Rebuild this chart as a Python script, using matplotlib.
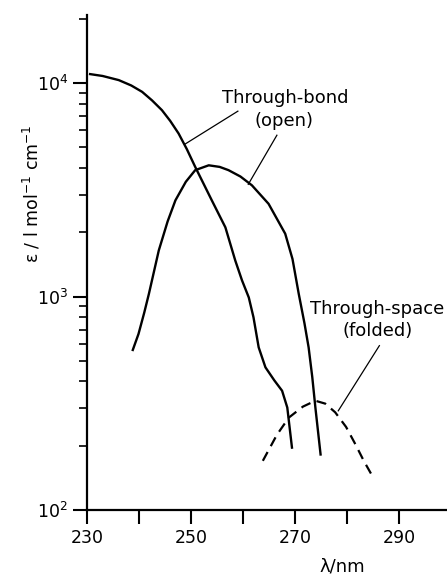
import numpy as np
import matplotlib
matplotlib.use('Agg')
from matplotlib import pyplot as plt
from matplotlib.ticker import LogLocator, FixedLocator, NullFormatter

# through-bond (open) -- falling curve from 230 nm
bond_nm = [230.6, 233.0, 236.1, 238.5, 240.6, 242.5, 244.4, 246.0, 247.6, 249.2, 250.8,
           252.4, 254.0, 256.6, 258.5, 259.8, 261.1, 262.0, 263.0, 264.3, 266.0, 267.5, 268.5, 269.4]
bond_eps = [11020, 10800, 10330, 9750, 9100, 8300, 7470, 6650, 5810, 4900, 4050,
            3380, 2820, 2110, 1475, 1190, 990, 800, 578, 466, 405, 362, 302, 196]

# second solid curve, peak near 253 nm
open_nm = [238.8, 239.9, 241.0, 241.9, 243.8, 245.5, 247.0, 249.0, 250.8, 253.4, 255.5, 257.2,
           259.5, 261.7, 264.9, 268.1, 269.5, 270.7, 271.8, 272.6, 273.3, 273.9, 274.9]
open_eps = [562, 668, 840, 1030, 1645, 2250, 2825, 3450, 3910, 4120, 4050, 3910,
            3650, 3320, 2720, 1970, 1500, 1030, 750, 578, 420, 302, 182]

# through-space (folded), dashed
space_nm = [263.8, 266.5, 268.8, 271.5, 273.9, 275.8, 277.7, 279.8, 281.6, 283.2, 284.8]
space_eps = [170, 225, 271, 305, 325, 315, 287, 245, 203, 170, 145]

fig = plt.figure(figsize=(4.47, 5.77), dpi=100)
ax = fig.add_axes([87/447, 1 - 510/577, 1 - 87/447, (510 - 15)/577])

ax.plot(bond_nm, bond_eps, color='black', lw=1.7)
ax.plot(open_nm, open_eps, color='black', lw=1.7)
ax.plot(space_nm, space_eps, color='black', lw=1.6, ls=(0, (4.5, 3)))

ax.set_yscale('log')
ax.set_xlim(230, 299.2)
ax.set_ylim(100, 20850)

ax.spines['top'].set_visible(False)
ax.spines['right'].set_visible(False)
ax.spines['left'].set_linewidth(1.6)
ax.spines['bottom'].set_linewidth(1.6)

ax.xaxis.set_major_locator(FixedLocator([230, 250, 270, 290]))
ax.xaxis.set_minor_locator(FixedLocator([240, 260, 280]))
ax.yaxis.set_major_locator(LogLocator(base=10, numticks=5))
ax.yaxis.set_minor_locator(LogLocator(base=10, subs=np.arange(2, 10), numticks=10))
ax.yaxis.set_minor_formatter(NullFormatter())
ax.tick_params(axis='both', which='major', direction='out', length=10, width=1.5, labelsize=12.5)
ax.tick_params(axis='x', which='minor', direction='out', length=10, width=1.5)
ax.tick_params(axis='y', which='minor', direction='out', length=6, width=1.2)

ax.set_ylabel('ε / l mol$^{-1}$ cm$^{-1}$', fontsize=12.5)
ax.yaxis.set_label_coords(-0.125, 0.64)
ax.set_xlabel('λ/nm', fontsize=13)
ax.xaxis.set_label_coords(0.708, -0.095)

# annotations
ax.text(268.1, 10**(4 + (83-98)/213), 'Through-bond', ha='center', va='center', fontsize=13)
ax.text(267.9, 10**(4 + (83-121)/213), '(open)', ha='center', va='center', fontsize=13)
ax.plot([259.0, 248.8], [10**(4 + (83-111)/213), 10**(4 + (83-144)/213)], color='black', lw=0.9)
ax.plot([266.5, 261.0], [10**(4 + (83-135)/213), 10**(4 + (83-184)/213)], color='black', lw=0.9)

ax.text(285.8, 10**(4 + (83-308)/213), 'Through-space', ha='center', va='center', fontsize=13)
ax.text(285.8, 10**(4 + (83-330)/213), '(folded)', ha='center', va='center', fontsize=13)
ax.plot([286.2, 278.3], [10**(4 + (83-345)/213), 10**(4 + (83-410)/213)], color='black', lw=0.9)

fig.savefig('out.png', dpi=100)
